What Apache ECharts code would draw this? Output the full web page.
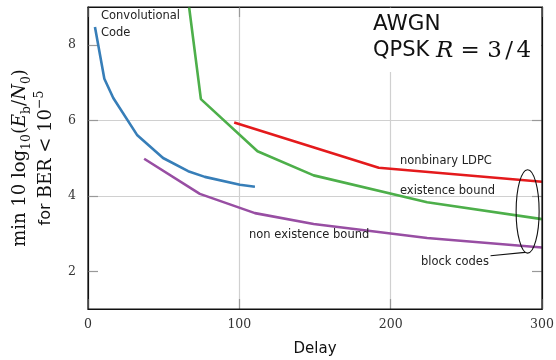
<!DOCTYPE html>
<html>
<head>
<meta charset="utf-8">
<script src="https://cdn.jsdelivr.net/npm/echarts@6/dist/echarts.min.js"></script>
<style>
  html, body { margin: 0; padding: 0; background: #fff; }
  #c { width: 556px; height: 360px; }
</style>
</head>
<body>
<div id="c"></div>
<script>
// Minimum Eb/N0 (dB) for BER < 1e-5 versus delay, AWGN channel, QPSK, R = 3/4
const convDelay   = [4.6, 10.8, 16.7, 32.6, 49.6, 66.2, 77.2, 100.4, 110.3];
const convEbN0    = [8.47, 7.10, 6.59, 5.60, 5.00, 4.65, 4.50, 4.29, 4.24];

const ldpcDelay   = [96.6, 192.1, 300];
const ldpcEbN0    = [5.94, 4.74, 4.37];

const existDelay  = [66.8, 74.6, 112, 149.1, 224.1, 300];
const existEbN0   = [9.0, 6.56, 5.18, 4.54, 3.83, 3.38];

const nonExDelay  = [37.1, 73.9, 110.3, 149.1, 224.1, 300];
const nonExEbN0   = [4.98, 4.05, 3.54, 3.25, 2.88, 2.63];

const xTicks = [0, 100, 200, 300];
const yTicks = [2, 4, 6, 8];
const yRange = [1, 9];

// "block codes" ellipse (data units) and its leader line
const blockEllipse = { x: 290.5, y: 3.585, halfW: 7.6, halfH: 1.105 };
const blockLeader  = [[266, 2.41], [288.8, 2.50]];

const zip = (xs, ys) => xs.map((x, i) => [x, ys[i]]);

const serif = 'DejaVu Serif';
const sans = 'DejaVu Sans';
const tickLabel = { fontFamily: serif, fontSize: 12.5, color: '#333' };
const frame = { show: true, onZero: false, lineStyle: { color: '#111', width: 1.2 } };
const innerTick = { show: true, inside: true, length: 10, lineStyle: { color: '#999', width: 1.2 } };
const grid = { show: true, showMinLine: false, showMaxLine: false, lineStyle: { color: '#d0d0d0', width: 1.2 } };

function lineSeries(name, xs, ys, color) {
  return {
    name, type: 'line', data: zip(xs, ys), showSymbol: false, symbol: 'none',
    clip: true, animation: false,
    lineStyle: { color, width: 2.6 }
  };
}

const option = {
  animation: false,
  backgroundColor: '#fff',
  grid: { left: 88, right: 14, top: 7, bottom: 51, containLabel: false, outerBoundsMode: 'none' },
  xAxis: [
    {
      type: 'value', position: 'bottom', min: xTicks[0], max: xTicks[xTicks.length - 1], interval: 100,
      axisLine: frame, axisTick: innerTick, splitLine: grid,
      axisLabel: Object.assign({ margin: 9 }, tickLabel),
      name: 'Delay', nameLocation: 'middle', nameGap: 33,
      nameTextStyle: { fontFamily: sans, fontSize: 15, color: '#111' }
    },
    {
      type: 'value', position: 'top', min: xTicks[0], max: xTicks[xTicks.length - 1], interval: 100,
      axisLine: frame, axisTick: innerTick, splitLine: { show: false }, axisLabel: { show: false }
    }
  ],
  yAxis: [
    {
      type: 'value', position: 'left', min: yRange[0], max: yRange[1],
      axisLine: frame,
      axisTick: Object.assign({ customValues: yTicks }, innerTick),
      splitLine: grid,
      axisLabel: Object.assign({ customValues: yTicks, margin: 12 }, tickLabel),
      name: '{r|min 10 log}{s|10}{r|(}{i|E}{s|b}{r|/}{i|N}{s|0}{r|)}\n{t|for }{r|BER < 10}{p|−5}',
      nameLocation: 'middle', nameRotate: 90, nameGap: 29,
      nameTextStyle: {
        color: '#111',
        rich: {
          r: { fontFamily: serif, fontSize: 18, lineHeight: 26, color: '#111' },
          i: { fontFamily: serif, fontStyle: 'italic', fontSize: 18, lineHeight: 26, color: '#111' },
          t: { fontFamily: sans, fontSize: 16, lineHeight: 26, color: '#111' },
          s: { fontFamily: serif, fontSize: 12.5, lineHeight: 18, verticalAlign: 'bottom', color: '#111' },
          p: { fontFamily: serif, fontSize: 12.5, lineHeight: 14, verticalAlign: 'top', color: '#111' }
        }
      }
    },
    {
      type: 'value', position: 'right', min: yRange[0], max: yRange[1],
      axisLine: frame,
      axisTick: Object.assign({ customValues: yTicks }, innerTick),
      splitLine: { show: false }, axisLabel: { show: false }
    }
  ],
  series: [
    lineSeries('Convolutional Code', convDelay, convEbN0, '#377eb8'),
    lineSeries('nonbinary LDPC', ldpcDelay, ldpcEbN0, '#e41a1c'),
    lineSeries('existence bound', existDelay, existEbN0, '#4daf4a'),
    lineSeries('non existence bound', nonExDelay, nonExEbN0, '#984ea3')
  ]
};

const chart = echarts.init(document.getElementById('c'), null, { renderer: 'canvas' });
chart.setOption(option);

const toPx = (x, y) => chart.convertToPixel({ xAxisIndex: 0, yAxisIndex: 0 }, [x, y]);
const c0 = toPx(blockEllipse.x, blockEllipse.y);
const c1 = toPx(blockEllipse.x + blockEllipse.halfW, blockEllipse.y + blockEllipse.halfH);
const l0 = toPx(blockLeader[0][0], blockLeader[0][1]);
const l1 = toPx(blockLeader[1][0], blockLeader[1][1]);
const bl = toPx(xTicks[0], yRange[0]);
const tr = toPx(xTicks[xTicks.length - 1], yRange[1]);

const note = (text, x, y) => ({
  type: 'text', x, y, z: 50,
  style: { text, fontFamily: sans, fontSize: 11.5, fill: '#222', verticalAlign: 'middle', align: 'left' }
});

chart.setOption({
  graphic: [
    // title box over the grid
    { type: 'rect', z: 40, shape: { x: 363, y: 8, width: 178, height: 64 }, style: { fill: '#fff' } },
    { type: 'text', z: 41, x: 373, y: 24,
      style: { text: 'AWGN', fontFamily: sans, fontSize: 21.5, fill: '#111', verticalAlign: 'middle' } },
    { type: 'text', z: 41, x: 373, y: 51,
      style: {
        text: '{a|QPSK }{b|R}{c| = }{d|3}{e|/}{d|4}',
        verticalAlign: 'middle',
        rich: {
          a: { fontFamily: sans, fontSize: 21, fill: '#111' },
          b: { fontFamily: serif, fontStyle: 'italic', fontSize: 23, fill: '#111' },
          c: { fontFamily: serif, fontSize: 23, fill: '#111' },
          d: { fontFamily: serif, fontSize: 23, fill: '#111' },
          e: { fontFamily: serif, fontSize: 23, fill: '#111', padding: [0, 3.5, 0, 3.5] }
        }
      } },
    note('Convolutional', 101, 16),
    note('Code', 101, 33),
    note('nonbinary LDPC', 400, 161),
    note('existence bound', 400, 191),
    note('non existence bound', 249, 235),
    note('block codes', 421, 262),
    { type: 'ellipse', z: 45,
      shape: { cx: c0[0], cy: c0[1], rx: Math.abs(c1[0] - c0[0]), ry: Math.abs(c1[1] - c0[1]) },
      style: { fill: 'none', stroke: '#111', lineWidth: 1.1 } },
    { type: 'line', z: 45,
      shape: { x1: l0[0], y1: l0[1], x2: l1[0], y2: l1[1] },
      style: { stroke: '#111', lineWidth: 1.1 } },
    // plot frame
    { type: 'rect', z: 60,
      shape: { x: bl[0], y: tr[1], width: tr[0] - bl[0], height: bl[1] - tr[1] },
      style: { fill: 'none', stroke: '#111', lineWidth: 1.2 } }
  ]
});
</script>
</body>
</html>
